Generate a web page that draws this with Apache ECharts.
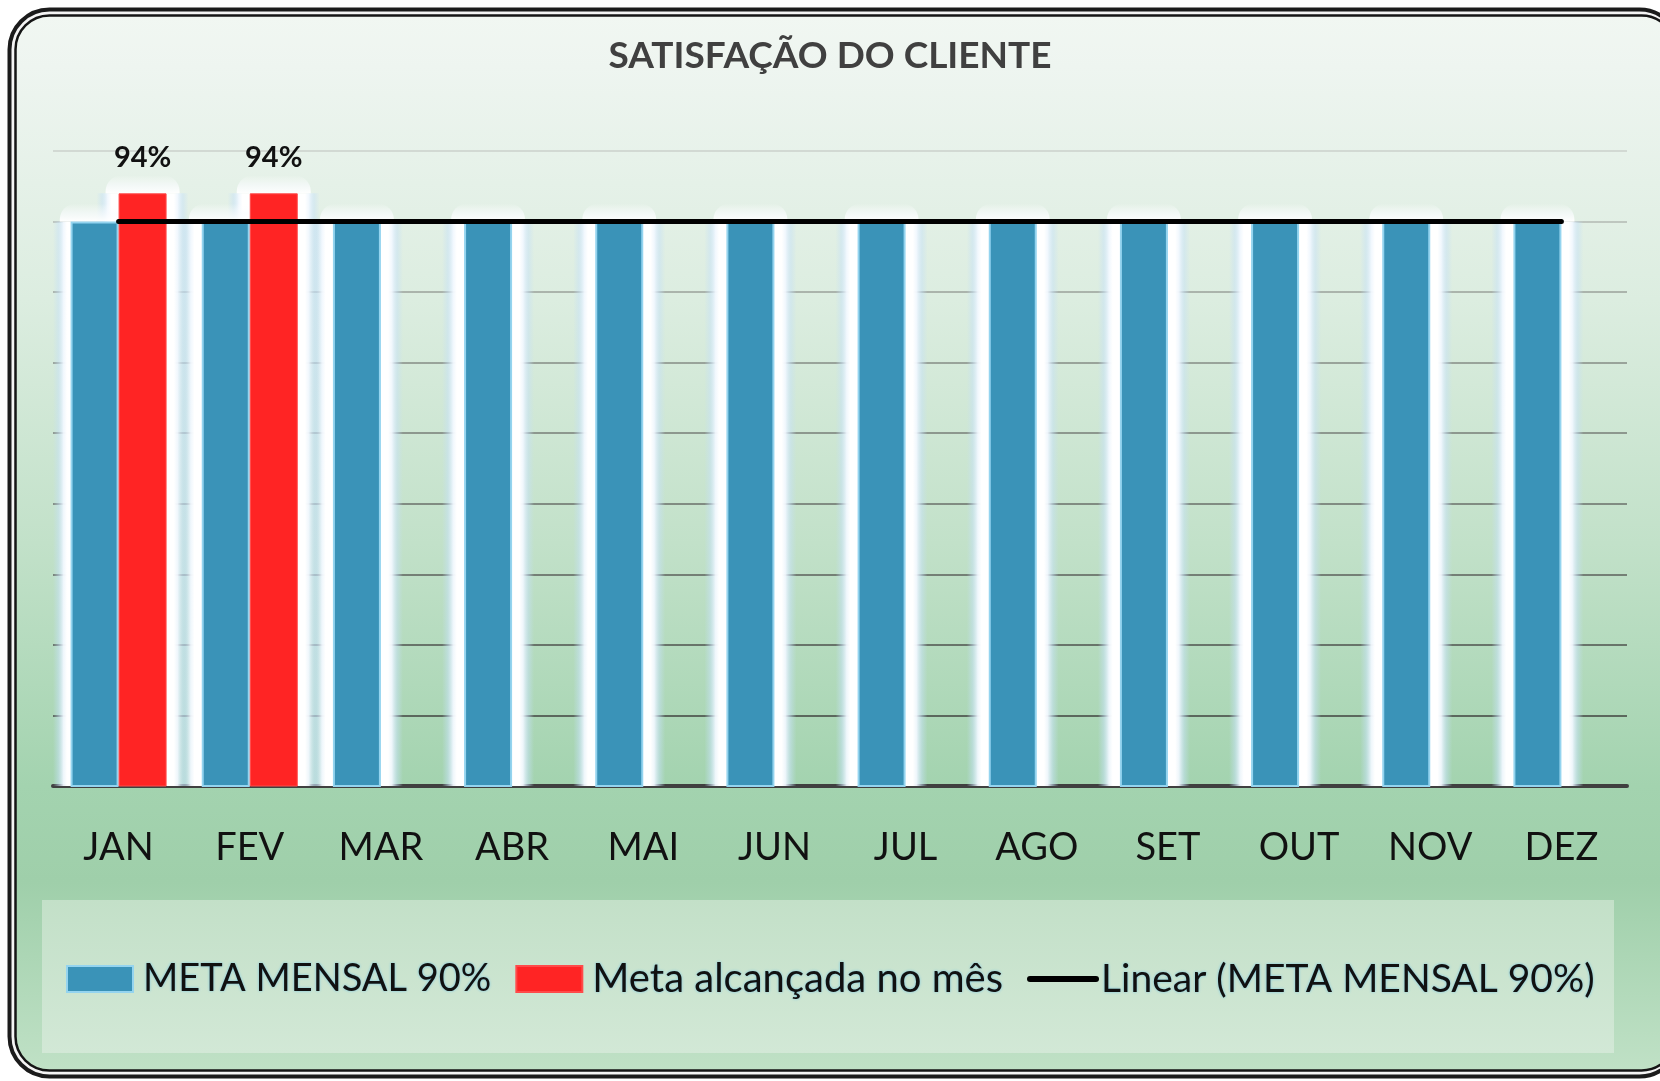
<!DOCTYPE html>
<html><head><meta charset="utf-8">
<script src="https://cdn.jsdelivr.net/npm/echarts@6/dist/echarts.min.js"></script>
<style>html,body{margin:0;padding:0;background:#fff}#c{width:1660px;height:1081px}</style>
</head><body><div id="c"></div>
<script>
const months = ['JAN','FEV','MAR','ABR','MAI','JUN','JUL','AGO','SET','OUT','NOV','DEZ'];
const metaMensal = [90,90,90,90,90,90,90,90,90,90,90,90];
const metaAlcancada = [94,94,null,null,null,null,null,null,null,null,null,null];
const trendLine = [90,90,90,90,90,90,90,90,90,90,90,90];
const yMin = 10, yMax = 100, yInterval = 10;

const FONT = 'Lato, "Open Sans", sans-serif';
const chart = echarts.init(document.getElementById('c'));
const frameFill = new echarts.graphic.LinearGradient(0,0,0,1,[
  {offset:0, color:'#f1f7f2'},{offset:0.05, color:'#eef5f0'},{offset:0.27, color:'#dcede0'},
  {offset:0.5, color:'#c2e1c9'},{offset:0.73, color:'#a3d3af'},{offset:0.82, color:'#9fcfaa'},
  {offset:1, color:'#c0e1c6'}]);
const legendFill = new echarts.graphic.LinearGradient(0,0,0,1,[
  {offset:0, color:'#c3e0c8'},{offset:1, color:'#d2e8d6'}]);
const gridGrad = {type:'linear', x:0, y:151, x2:0, y2:786, global:true,
  colorStops:[{offset:0,color:'#d2d9d3'},{offset:0.3,color:'#9da79e'},{offset:1,color:'#4f5c51'}]};

const mainLayout = {barWidth:48, barGap:'0%'};
const glowLayout = {barWidth:92, barGap:'-47.826%'};
const glowFill = new echarts.graphic.LinearGradient(0,0,1,0,[
  {offset:0, color:'rgba(195,222,245,0)'},
  {offset:0.06, color:'rgba(200,226,247,0.5)'},
  {offset:0.12, color:'rgba(242,248,255,0.95)'},
  {offset:0.16, color:'rgba(255,255,255,1)'},
  {offset:0.84, color:'rgba(255,255,255,1)'},
  {offset:0.88, color:'rgba(242,248,255,0.95)'},
  {offset:0.94, color:'rgba(200,226,247,0.5)'},
  {offset:1, color:'rgba(195,222,245,0)'}]);
const capFill = new echarts.graphic.LinearGradient(0,0,0,1,[
  {offset:0, color:'rgba(255,255,255,0)'},
  {offset:0.5, color:'rgba(250,252,255,0.6)'},
  {offset:1, color:'rgba(255,255,255,0.97)'}]);
const glowStyle = {color:glowFill};
const glowCap = {show:true, position:'top', distance:0, formatter:' ', width:74, height:18,
  backgroundColor:capFill, borderRadius:[16,16,0,0], padding:0};

chart.setOption({
  backgroundColor:'#ffffff',
  animation:false,
  graphic:[
    {type:'rect', z:-30, silent:true, shape:{x:9.5,y:9.5,width:1670,height:1067,r:40}, style:{fill:'#f4f4f4', stroke:'#1b1b1b', lineWidth:4}},
    {type:'rect', z:-29, silent:true, shape:{x:15.5,y:15.5,width:1660,height:1055,r:34}, style:{fill:frameFill, stroke:'#151515', lineWidth:2.5}},
    {type:'rect', z:-28, silent:true, shape:{x:42,y:900,width:1572,height:153}, style:{fill:legendFill}}
  ],
  title:{text:'SATISFAÇÃO DO CLIENTE', left:'center', top:33,
    textStyle:{fontFamily:FONT, fontSize:37, fontWeight:'bold', color:'#404040'}},
  grid:{left:53, right:33, top:151, bottom:295, containLabel:false},
  xAxis:[
    {type:'category', data:months, axisTick:{show:false},
     axisLine:{lineStyle:{color:'#404040', width:4}},
     axisLabel:{fontFamily:FONT, fontSize:38, color:'#111', margin:43}},
    {type:'category', data:months, show:false, position:'bottom'}
  ],
  yAxis:{type:'value', min:yMin, max:yMax, interval:yInterval,
    axisLabel:{show:false}, axisTick:{show:false}, axisLine:{show:false},
    splitLine:{lineStyle:{color:gridGrad, width:2}}},
  legend:{left:66, top:959, padding:0, itemWidth:66, itemHeight:26, itemGap:24,
    textStyle:{fontFamily:FONT, fontSize:38, color:'#111', textShadowColor:'rgba(110,195,230,0.9)', textShadowBlur:3, padding:[0,0,0,5]},
    data:[{name:'META MENSAL 90%', icon:'rect'},
          {name:'Meta alcançada no mês', icon:'rect', textStyle:{fontSize:40}},
          {name:'Linear (META MENSAL 90%)', textStyle:{fontSize:39, padding:[0,0,0,0]},
           lineStyle:{width:6, cap:'round'}, itemStyle:{color:'rgba(0,0,0,0)', borderColor:'rgba(0,0,0,0)', borderWidth:0}}]},
  series:[
    Object.assign({name:'glowA', type:'bar', xAxisIndex:1, data:metaMensal, silent:true, z:1, itemStyle:glowStyle, label:glowCap}, glowLayout),
    Object.assign({name:'glowB', type:'bar', xAxisIndex:1, data:metaAlcancada, silent:true, z:1, itemStyle:glowStyle, label:glowCap}, glowLayout),
    Object.assign({name:'META MENSAL 90%', type:'bar', data:metaMensal, z:3,
      itemStyle:{color:'#3a93b8', borderColor:'#94d4ef', borderWidth:2}}, mainLayout),
    Object.assign({name:'Meta alcançada no mês', type:'bar', data:metaAlcancada, z:3,
      itemStyle:{color:'#ff2424', borderColor:'#ff4a4a', borderWidth:1},
      label:{show:true, position:'top', distance:21, formatter:'{c}%', fontFamily:FONT, fontWeight:'bold', fontSize:29, color:'#111'}}, mainLayout),
    {name:'Linear (META MENSAL 90%)', type:'line', data:trendLine, symbol:'none', z:5,
      lineStyle:{color:'#000', width:5, cap:'round'}, itemStyle:{color:'#000'}}
  ]
});
</script></body></html>
